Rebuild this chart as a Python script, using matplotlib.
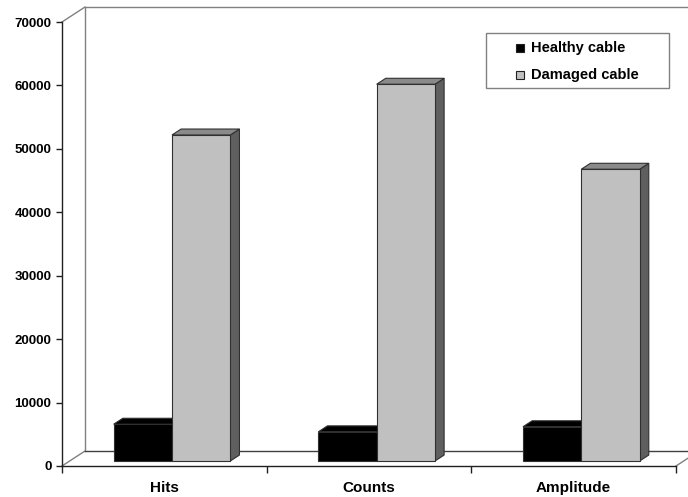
import matplotlib
matplotlib.use("Agg")
import matplotlib.pyplot as plt
from matplotlib.patches import Polygon, Rectangle

plt.rcParams['font.family'] = ['Liberation Sans', 'DejaVu Sans']
plt.rcParams['font.weight'] = 'bold'

# Data
categories = ["Hits", "Counts", "Amplitude"]
series_names = ["Healthy cable", "Damaged cable"]
healthy = [5800, 4600, 5400]
damaged = [51400, 59400, 46000]
yticks = [0, 10000, 20000, 30000, 40000, 50000, 60000, 70000]

# Face colours per series: front, top, side
front_colors = ["#000000", "#C0C0C0"]
top_colors = ["#000000", "#8A8A8A"]
side_colors = ["#000000", "#5F5F5F"]

W, H = 688, 497
fig = plt.figure(figsize=(W / 100, H / 100), dpi=100)

# Front plane of the 3-D box in pixels
x0_px, x1_px = 62, 676
y0_px, y1_px = 466, 22
ax = fig.add_axes([x0_px / W, 1 - y0_px / H, (x1_px - x0_px) / W, (y0_px - y1_px) / H])
ymax = 70000
ax.set_xlim(0, len(categories))
ax.set_ylim(0, ymax)

# Depth offset of the back wall, in data units
px_x = len(categories) / (x1_px - x0_px)
px_y = ymax / (y0_px - y1_px)
DX = 23 * px_x
DY = 15 * px_y

wall = dict(color="#808080", lw=1.0, clip_on=False, zorder=1)
ax.plot([DX, DX, len(categories) + DX + 1], [DY, ymax + DY, ymax + DY], **wall)
ax.plot([0, DX], [ymax, ymax + DY], **wall)
ax.plot([0, DX], [0, DY], **wall)
ax.plot([DX, len(categories) + DX + 1], [DY, DY], color="#404040", lw=1.0, clip_on=False, zorder=1)
ax.plot([len(categories), len(categories) + DX], [0, DY], **wall)

# Bars: front face via ax.bar, top and side faces as polygons
f0, f1 = 0.333, 0.73
bw = 0.285
edge = "#303030"
series = [healthy, damaged]
for si, vals in enumerate(series):
    for ci, v in enumerate(vals):
        xl = ci + 0.5 - bw + si * bw + f0 * DX
        xr = xl + bw
        yb = f0 * DY
        yt = yb + v
        ddx = (f1 - f0) * DX
        ddy = (f1 - f0) * DY
        z = 3 + ci * 2 + si
        ax.bar(xl, v, width=bw, bottom=yb, align="edge", color=front_colors[si],
               edgecolor=edge, linewidth=0.8, zorder=z + 0.2)
        ax.add_patch(Polygon([(xl, yt), (xr, yt), (xr + ddx, yt + ddy), (xl + ddx, yt + ddy)],
                             closed=True, facecolor=top_colors[si], edgecolor=edge,
                             linewidth=0.8, zorder=z + 0.1, clip_on=False))
        ax.add_patch(Polygon([(xr, yb), (xr + ddx, yb + ddy), (xr + ddx, yt + ddy), (xr, yt)],
                             closed=True, facecolor=side_colors[si], edgecolor=edge,
                             linewidth=0.8, zorder=z, clip_on=False))

# Axes styling
for s in ["top", "right"]:
    ax.spines[s].set_visible(False)
for s in ["left", "bottom"]:
    ax.spines[s].set_color("#202020")
    ax.spines[s].set_linewidth(1.0)
    ax.spines[s].set_zorder(2)

ax.set_yticks(yticks)
ax.set_yticklabels([str(t) for t in yticks], fontsize=9.5, fontweight="bold")
ax.tick_params(axis="y", direction="out", length=4, width=1, pad=3.6, color="#202020")

ax.set_xticks(range(len(categories) + 1))
ax.set_xticklabels([""] * (len(categories) + 1))
ax.set_xticks([i + 0.5 for i in range(len(categories))], minor=True)
ax.set_xticklabels(categories, minor=True, fontsize=11, fontweight="bold")
ax.tick_params(axis="x", which="major", direction="out", length=5, width=1, color="#202020")
ax.tick_params(axis="x", which="minor", length=0, pad=10.5)
ax.patch.set_alpha(0)

# Legend box
lx0, ly0, lx1, ly1 = 486, 33, 669, 88
fig.patches.append(Rectangle((lx0 / W, 1 - ly1 / H), (lx1 - lx0) / W, (ly1 - ly0) / H,
                             transform=fig.transFigure, facecolor="white",
                             edgecolor="#808080", linewidth=1.0, zorder=20))
rows_y = [48, 75]
for name, col, ry in zip(series_names, front_colors, rows_y):
    fig.patches.append(Rectangle((516 / W, 1 - (ry + 4) / H), 8 / W, 8 / H,
                                 transform=fig.transFigure, facecolor=col,
                                 edgecolor="#202020", linewidth=0.8, zorder=21))
    fig.text(531 / W, 1 - ry / H, name, fontsize=10.5, fontweight="bold",
             va="center", ha="left", zorder=22)

fig.savefig("out.png", dpi=100)
